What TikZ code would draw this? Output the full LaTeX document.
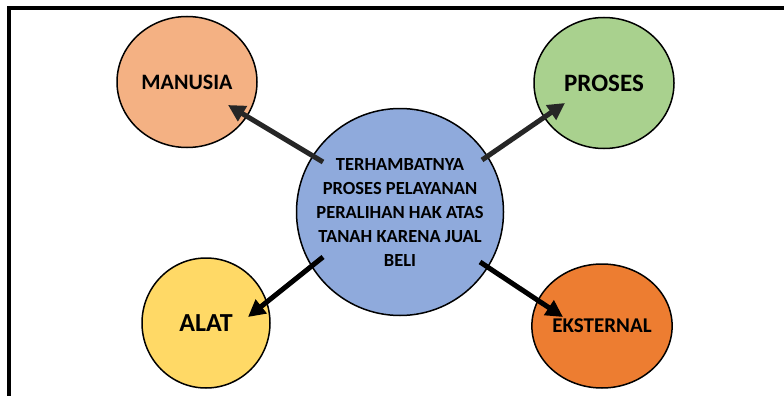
\documentclass[tikz,border=0pt]{standalone}
\usepackage{fontspec}
\setmainfont{Carlito}
\usetikzlibrary{arrows.meta,shapes.geometric}

\definecolor{peach}{HTML}{F4B183}
\definecolor{leaf}{HTML}{A9D18E}
\definecolor{sun}{HTML}{FFD966}
\definecolor{rust}{HTML}{ED7D31}
\definecolor{sky}{HTML}{8FAADC}

\begin{document}
\begin{tikzpicture}[x=1pt,y=1pt,>={Triangle[length=17pt,width=17pt]},
                    main node/.style={ellipse,draw,line width=1.5pt,inner sep=0pt,font=\bfseries},
                    big arrow/.style={->,line width=5pt}]
  \useasboundingbox (0,0) rectangle (784,-396);
  % frame
  \draw[line width=3.8pt] (9,-398) -- (9,-8) -- (786,-8);
  % nodes
  \node[main node,circle,fill=sky,minimum size=207pt,align=center,
        font=\bfseries\fontsize{18.5}{24}\selectfont] (c) at (400,-212)
        {TERHAMBATNYA\\PROSES PELAYANAN\\PERALIHAN HAK ATAS\\TANAH KARENA JUAL\\BELI};
  \node[main node,fill=peach,minimum width=140pt,minimum height=131pt,
        font=\bfseries\fontsize{22}{26}\selectfont] (m) at (187,-82) {MANUSIA};
  \node[main node,fill=leaf,minimum width=140pt,minimum height=131pt,
        font=\bfseries\fontsize{25}{30}\selectfont] (p) at (604,-83) {PROSES};
  \node[main node,fill=sun,minimum width=128pt,minimum height=130pt,
        font=\bfseries\fontsize{26}{30}\selectfont] (a) at (206,-323) {ALAT};
  \node[main node,fill=rust,minimum width=136pt,minimum height=124pt,
        font=\bfseries\fontsize{21}{25}\selectfont] (e) at (602,-326) {EKSTERNAL};
  % arrows
  \draw[big arrow,draw=black!85] ([shift={(-77pt,50pt)}]c.center) -- ([shift={(41pt,-23pt)}]m.center);
  \draw[big arrow,draw=black!85] ([shift={(82pt,52pt)}]c.center) -- ([shift={(-39pt,-20pt)}]p.center);
  \draw[big arrow] ([shift={(-77pt,-45pt)}]c.center) -- ([shift={(42pt,6pt)}]a.center);
  \draw[big arrow] ([shift={(80pt,-50pt)}]c.center) -- ([shift={(-39pt,9pt)}]e.center);
\end{tikzpicture}
\end{document}
